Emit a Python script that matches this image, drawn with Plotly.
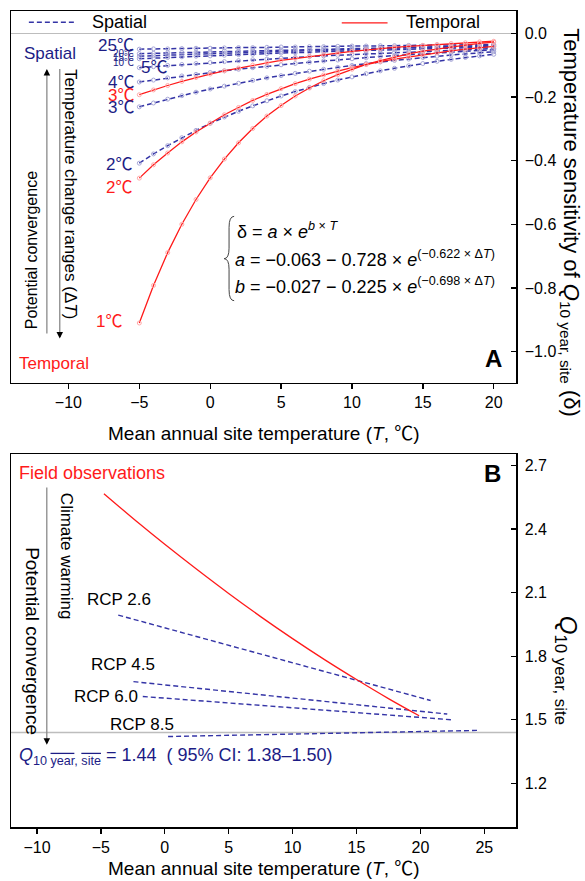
import plotly.graph_objects as go

# ---------------- Panel A data (delta vs mean annual site temperature) ----------------
T_A = list(range(-5, 21))

temporal_1 = [-0.910, -0.792, -0.689, -0.600, -0.522, -0.454, -0.395, -0.344, -0.299, -0.260, -0.227, -0.197, -0.172,
              -0.149, -0.130, -0.113, -0.098, -0.086, -0.075, -0.065, -0.056, -0.049, -0.043, -0.037, -0.032, -0.028]
temporal_2 = [-0.455, -0.413, -0.376, -0.341, -0.310, -0.282, -0.256, -0.233, -0.211, -0.192, -0.174, -0.158, -0.144,
              -0.131, -0.119, -0.108, -0.098, -0.089, -0.081, -0.074, -0.067, -0.061, -0.055, -0.050, -0.046, -0.041]
temporal_3 = [-0.193, -0.178, -0.164, -0.151, -0.139, -0.128, -0.118, -0.109, -0.100, -0.093, -0.085, -0.079, -0.072,
              -0.067, -0.062, -0.057, -0.052, -0.048, -0.044, -0.041, -0.038, -0.035, -0.032, -0.030, -0.027, -0.025]

spatial_2 = [-0.408, -0.379, -0.353, -0.328, -0.305, -0.283, -0.263, -0.245, -0.228, -0.212, -0.197, -0.183, -0.170,
             -0.158, -0.147, -0.137, -0.127, -0.118, -0.110, -0.102, -0.095, -0.088, -0.082, -0.076, -0.071, -0.066]
spatial_3 = [-0.231, -0.219, -0.207, -0.196, -0.185, -0.175, -0.166, -0.157, -0.148, -0.140, -0.133, -0.126, -0.119,
             -0.113, -0.107, -0.101, -0.095, -0.090, -0.085, -0.081, -0.076, -0.072, -0.068, -0.065, -0.061, -0.058]
spatial_4 = [-0.153, -0.147, -0.140, -0.134, -0.129, -0.123, -0.118, -0.113, -0.108, -0.104, -0.099, -0.095, -0.091,
             -0.087, -0.084, -0.080, -0.077, -0.073, -0.070, -0.067, -0.064, -0.062, -0.059, -0.057, -0.054, -0.052]
spatial_5 = [-0.108, -0.105, -0.101, -0.098, -0.095, -0.092, -0.089, -0.086, -0.083, -0.081, -0.078, -0.076, -0.073,
             -0.071, -0.069, -0.066, -0.064, -0.062, -0.060, -0.058, -0.057, -0.055, -0.053, -0.051, -0.050, -0.048]
spatial_10 = [-0.080, -0.078, -0.076, -0.074, -0.072, -0.071, -0.069, -0.067, -0.066, -0.064, -0.062, -0.061, -0.059,
              -0.058, -0.057, -0.055, -0.054, -0.053, -0.051, -0.050, -0.049, -0.048, -0.046, -0.045, -0.044, -0.043]
spatial_15 = [-0.072, -0.070, -0.069, -0.067, -0.066, -0.064, -0.063, -0.061, -0.060, -0.058, -0.057, -0.056, -0.054,
              -0.053, -0.052, -0.051, -0.049, -0.048, -0.047, -0.046, -0.045, -0.044, -0.043, -0.042, -0.041, -0.040]
spatial_20 = [-0.064, -0.063, -0.061, -0.060, -0.059, -0.058, -0.056, -0.055, -0.054, -0.053, -0.052, -0.051, -0.050,
              -0.049, -0.048, -0.047, -0.046, -0.045, -0.044, -0.043, -0.042, -0.041, -0.040, -0.040, -0.039, -0.038]
spatial_25 = [-0.050, -0.049, -0.049, -0.048, -0.047, -0.047, -0.046, -0.045, -0.045, -0.044, -0.043, -0.043, -0.042,
              -0.042, -0.041, -0.040, -0.040, -0.039, -0.039, -0.038, -0.038, -0.037, -0.037, -0.036, -0.036, -0.035]

A_xticks = [-10, -5, 0, 5, 10, 15, 20]
A_yticks = [0.0, -0.2, -0.4, -0.6, -0.8, -1.0]

# ---------------- Panel B data (Q10 vs mean annual site temperature) ----------------
field_T = [-4.76, -2, 0, 2.5, 5, 7.5, 10, 12.5, 15, 17.5, 19.9]
field_Q10 = [2.567, 2.426, 2.328, 2.210, 2.096, 1.987, 1.883, 1.784, 1.690, 1.600, 1.519]

rcp_names = ["RCP 2.6", "RCP 4.5", "RCP 6.0", "RCP 8.5"]
rcp_T = [[-3.64, 20.8], [-2.45, 22.1], [-1.72, 22.45], [0.26, 24.6]]
rcp_Q10 = [[1.994, 1.591], [1.680, 1.527], [1.610, 1.500], [1.421, 1.450]]
Q10_mean = 1.44

B_xticks = [-10, -5, 0, 5, 10, 15, 20, 25]
B_yticks = [1.2, 1.5, 1.8, 2.1, 2.4, 2.7]

# ---------------- styling ----------------
FONT = "Liberation Sans, Arial, Noto Sans CJK SC, sans-serif"
NAVY = "#1c1c85"
BLUE = "#3434a6"
RED = "#ff1a1a"
GRAY = "#bdbdbd"

fig = go.Figure()

spatial_series = [spatial_25, spatial_20, spatial_15, spatial_10, spatial_5, spatial_4, spatial_3, spatial_2]
for s in spatial_series:
    fig.add_trace(go.Scatter(
        x=T_A, y=s, mode="lines+markers", xaxis="x", yaxis="y",
        line=dict(color=BLUE, width=1.5, dash="5px,3px"),
        marker=dict(symbol="circle-open", size=4, color="#a8a8d8", line=dict(width=1)),
        showlegend=False, hoverinfo="skip"))

for s in [temporal_3, temporal_2, temporal_1]:
    fig.add_trace(go.Scatter(
        x=T_A, y=s, mode="lines+markers", xaxis="x", yaxis="y",
        line=dict(color=RED, width=1.3),
        marker=dict(symbol="circle-open", size=4, color="#ffaaaa", line=dict(width=1)),
        showlegend=False, hoverinfo="skip"))

for xs, ys in zip(rcp_T, rcp_Q10):
    fig.add_trace(go.Scatter(
        x=xs, y=ys, mode="lines", xaxis="x2", yaxis="y2",
        line=dict(color=BLUE, width=1.4, dash="5px,3px"),
        showlegend=False, hoverinfo="skip"))

fig.add_trace(go.Scatter(
    x=field_T, y=field_Q10, mode="lines", xaxis="x2", yaxis="y2",
    line=dict(color=RED, width=1.3, shape="spline"), showlegend=False, hoverinfo="skip"))

annotations = []


def ann(text, x, y, xref="x", yref="y", size=17, color="black", xanchor="center", yanchor="middle",
        angle=0, bold=False):
    if bold:
        text = "<b>" + text + "</b>"
    annotations.append(dict(text=text, x=x, y=y, xref=xref, yref=yref, showarrow=False,
                            xanchor=xanchor, yanchor=yanchor, textangle=angle,
                            font=dict(family=FONT, size=size, color=color)))


# ----- Panel A legend row -----
ann("Spatial", -8.5, 0.036, size=18, xanchor="left")
ann("Temporal", 13.7, 0.036, size=18, xanchor="left")

# ----- Panel A line labels -----
ann("25℃", -5.2, -0.037, size=17, color=NAVY, xanchor="right")
ann("20℃", -5.2, -0.064, size=10, color=NAVY, xanchor="right")
ann("15℃", -5.2, -0.077, size=10, color=NAVY, xanchor="right")
ann("10℃", -5.2, -0.092, size=10, color=NAVY, xanchor="right")
ann("5℃", -5.0, -0.108, size=17, color=NAVY, xanchor="left")
ann("4℃", -5.2, -0.155, size=17, color=NAVY, xanchor="right")
ann("3℃", -5.2, -0.196, size=17, color=RED, xanchor="right")
ann("3℃", -5.2, -0.234, size=17, color=NAVY, xanchor="right")
ann("2℃", -5.35, -0.411, size=17, color=NAVY, xanchor="right")
ann("2℃", -5.35, -0.485, size=17, color=RED, xanchor="right")
ann("1℃", -6.05, -0.906, size=17, color=RED, xanchor="right")

# ----- Panel A left side -----
ann("Spatial", -13.3, -0.065, size=17, color=NAVY, xanchor="left")
ann("Temporal", -13.65, -1.038, size=17, color=RED, xanchor="left")
ann("Potential convergence", -12.6, -0.683, size=16, angle=-90)
ann("Temperature change ranges (Δ<i>T</i>)", -9.9, -0.504, size=17, angle=90)
ann("A", 20.7, -1.022, size=24, xanchor="right", bold=True)

# ----- Panel A formula -----
ann("δ = <i>a</i> × <i>e</i><sup><i>b</i> × <i>T</i></sup>", 1.75, -0.620, size=18, xanchor="left")
ann("<i>a</i> = −0.063 − 0.728 × <i>e</i><sup>(−0.622 × Δ<i>T</i>)</sup>", 1.62, -0.708, size=18, xanchor="left")
ann("<i>b</i> = −0.027 − 0.225 × <i>e</i><sup>(−0.698 × Δ<i>T</i>)</sup>", 1.62, -0.793, size=18, xanchor="left")

# ----- Panel B texts -----
ann("Field observations", -11.6, 2.667, xref="x2", yref="y2", size=18, color=RED, xanchor="left")
ann("Climate warming", -7.7, 2.272, xref="x2", yref="y2", size=17, angle=90)
ann("Potential convergence", -10.4, 1.872, xref="x2", yref="y2", size=19, angle=90)
for name, lx, ly in zip(rcp_names, [-6.27, -5.95, -7.24, -4.47], [2.069, 1.759, 1.608, 1.476]):
    ann(name, lx, ly, xref="x2", yref="y2", size=17, xanchor="left")
ann("<i>Q</i><sub>10 <span style='text-decoration:overline'>year</span>, "
    "<span style='text-decoration:overline'>site</span></sub> = " + f"{Q10_mean:.2f}" +
    "  ( 95% CI: 1.38–1.50)", -11.6, 1.326, xref="x2", yref="y2", size=18, color=NAVY, xanchor="left")
ann("B", 26.5, 2.662, xref="x2", yref="y2", size=24, xanchor="right", bold=True)

# ----- axis titles -----
ann("Mean annual site temperature (<i>T</i>, ℃)", 0.5, 0.4823, xref="paper", yref="paper", size=19)
ann("Mean annual site temperature (<i>T</i>, ℃)", 0.5, -0.051, xref="paper", yref="paper", size=19)
ann("Temperature sensitivity of <i>Q</i><sub>10 year, site</sub> (δ)", 1.108, 0.7405,
    xref="paper", yref="paper", size=22, angle=90)
ann("<i>Q</i><sub>10 year, site</sub>", 1.100, 0.192, xref="paper", yref="paper", size=24, angle=90)

# ----- arrows (black heads) -----
for ax_, x, y, dy in [("A", -11.52, -0.112, 14), ("A", -10.61, -0.959, -14), ("B", -9.23, 1.382, -14)]:
    xr, yr = ("x", "y") if ax_ == "A" else ("x2", "y2")
    annotations.append(dict(x=x, y=y, xref=xr, yref=yr, ax=0, ay=dy, showarrow=True, arrowhead=2,
                            arrowsize=1, arrowwidth=1.3, arrowcolor="black", text=" "))

shapes = []
# arrow shafts (gray)
shapes.append(dict(type="line", xref="x", yref="y", x0=-11.52, x1=-11.52, y0=-0.943, y1=-0.13,
                   line=dict(color="#8a8a8a", width=1.3)))
shapes.append(dict(type="line", xref="x", yref="y", x0=-10.61, x1=-10.61, y0=-0.112, y1=-0.94,
                   line=dict(color="#8a8a8a", width=1.3)))
shapes.append(dict(type="line", xref="x2", yref="y2", x0=-9.23, x1=-9.23, y0=2.596, y1=1.40,
                   line=dict(color="#8a8a8a", width=1.3)))
# legend keys
shapes.append(dict(type="line", xref="x", yref="y", x0=-12.79, x1=-9.56, y0=0.035, y1=0.035,
                   line=dict(color=BLUE, width=1.5, dash="5px,3px")))
shapes.append(dict(type="line", xref="x", yref="y", x0=9.28, x1=12.51, y0=0.033, y1=0.033,
                   line=dict(color=RED, width=1.3)))
# formula brace
shapes.append(dict(type="path", xref="x", yref="y",
                   path="M 1.69,-0.575 Q 1.33,-0.575 1.33,-0.61 L 1.33,-0.675 Q 1.33,-0.708 0.98,-0.708 "
                        "Q 1.33,-0.708 1.33,-0.741 L 1.33,-0.805 Q 1.33,-0.840 1.69,-0.840",
                   line=dict(color="#444", width=1)))
# Q10 reference line in panel B
shapes.append(dict(type="line", xref="x2 domain", yref="y2", x0=0, x1=1, y0=Q10_mean, y1=Q10_mean,
                   line=dict(color=GRAY, width=1.5), layer="below"))

axis_common = dict(showline=True, mirror=True, linecolor="black", linewidth=1.5, showgrid=False,
                   tickfont=dict(family=FONT, size=16, color="black"), ticklen=5, tickwidth=1.3,
                   tickcolor="black")

fig.update_layout(
    width=585, height=881,
    margin=dict(l=9, r=69, t=10, b=54),
    paper_bgcolor="white", plot_bgcolor="white",
    showlegend=False,
    hovermode=False,
    xaxis=dict(domain=[0, 1], anchor="y", range=[-14.05, 21.57], tickvals=A_xticks, ticks="outside",
               zeroline=False, **axis_common),
    yaxis=dict(domain=[0.5447, 1], anchor="x", side="right", range=[-1.097, 0.070], tickvals=A_yticks,
               tickformat=".1f", ticks="inside", zeroline=True, zerolinecolor=GRAY, zerolinewidth=1.5,
               ticklabelstandoff=4, **axis_common),
    xaxis2=dict(domain=[0, 1], anchor="y2", range=[-12.03, 27.48], tickvals=B_xticks, ticks="outside",
                zeroline=False, **axis_common),
    yaxis2=dict(domain=[0, 0.4565], anchor="x2", side="right", range=[0.994, 2.752], tickvals=B_yticks,
                tickformat=".1f", ticks="inside", zeroline=False, ticklabelstandoff=4, **axis_common),
    annotations=annotations,
    shapes=shapes,
)

fig.write_html("out.html", config={"displayModeBar": False, "staticPlot": True},
               post_script="document.body.style.margin='0';document.body.style.overflow='hidden';")
